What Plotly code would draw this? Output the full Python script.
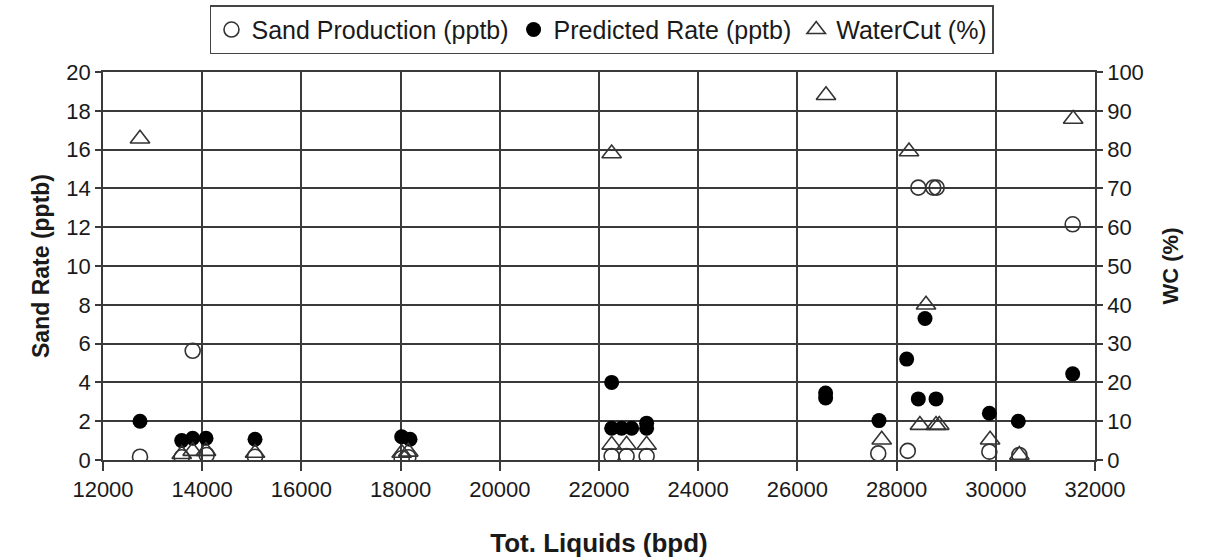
import plotly.graph_objects as go

# Sand Production (pptb) - open circles
sand_x = [12746, 13587, 13808, 14090, 15065, 18022, 18155, 22255, 22556, 22960,
          27630, 28225, 28438, 28740, 28808, 29870, 30475, 31550]
sand_y = [0.17, 0.14, 5.63, 0.26, 0.17, 0.09, 0.14, 0.2, 0.2, 0.2,
          0.34, 0.47, 14.04, 14.04, 14.04, 0.43, 0.26, 12.15]

# Predicted Rate (pptb) - filled circles
pred_x = [12746, 13587, 13808, 14077, 15065, 18022, 18190, 22255, 22255, 22456,
          22658, 22960, 22960, 26569, 26569, 27645, 28203, 28438, 28573, 28795,
          29870, 30454, 31550]
pred_y = [2.0, 1.0, 1.12, 1.12, 1.07, 1.2, 1.07, 4.0, 1.64, 1.64,
          1.64, 1.9, 1.64, 3.2, 3.45, 2.03, 5.2, 3.15, 7.29, 3.15,
          2.41, 2.0, 4.44]

# WaterCut (%) - open triangles (secondary axis)
wc_x = [12746, 13587, 13808, 14077, 15065, 18022, 18155, 22255, 22255, 22556,
        22960, 26577, 27700, 28250, 28470, 28593, 28795, 28860, 29885, 30475, 31560]
wc_y = [82.8, 1.5, 2.3, 2.3, 1.8, 1.8, 2.1, 79.0, 3.9, 3.9,
        3.9, 94.0, 5.2, 79.5, 9.0, 40.0, 9.0, 9.0, 5.2, 1.3, 87.9]

x_ticks = [12000, 14000, 16000, 18000, 20000, 22000, 24000, 26000, 28000, 30000, 32000]

FONT = "Arial, Liberation Sans, sans-serif"
INK = "#1a1a1a"
GRID = "#3a3a3a"
FS = 22

fig = go.Figure()
fig.add_trace(go.Scatter(
    x=sand_x, y=sand_y, mode="markers", name="Sand Production (pptb)",
    marker=dict(symbol="circle-open", size=15, color="#333333", line=dict(width=1.6))))
fig.add_trace(go.Scatter(
    x=pred_x, y=pred_y, mode="markers", name="Predicted Rate (pptb)",
    marker=dict(symbol="circle", size=15, color="#000000")))
fig.add_trace(go.Scatter(
    x=wc_x, y=wc_y, mode="markers", name="WaterCut (%)", yaxis="y2",
    marker=dict(symbol="triangle-up-open", size=17, color="#333333", line=dict(width=1.6))))

fig.update_layout(
    width=1207, height=560,
    margin=dict(l=103, r=112, t=72, b=100, autoexpand=False),
    paper_bgcolor="white", plot_bgcolor="white",
    font=dict(family=FONT, size=FS, color=INK),
    showlegend=True,
    legend=dict(orientation="h", x=0.503, xanchor="center", y=1.172, yanchor="top",
                bordercolor="#444444", borderwidth=1.5, bgcolor="white",
                font=dict(family=FONT, size=25, color=INK),
                itemwidth=30, tracegroupgap=0),
    xaxis=dict(range=[12000, 32000], tickmode="array", tickvals=x_ticks,
               ticktext=[str(v) for v in x_ticks],
               showgrid=True, gridcolor=GRID, gridwidth=1.5,
               showline=True, linecolor=GRID, linewidth=1.5, mirror=True,
               ticks="outside", ticklen=9, tickcolor=GRID, tickwidth=1.5,
               zeroline=False,
               tickfont=dict(family=FONT, size=FS, color=INK),
               title=dict(text="<b>Tot. Liquids (bpd)</b>", standoff=33,
                          font=dict(family=FONT, size=26, color=INK))),
    yaxis=dict(range=[0, 20], dtick=2, tick0=0,
               showgrid=True, gridcolor=GRID, gridwidth=1.5,
               showline=True, linecolor=GRID, linewidth=1.5,
               ticks="outside", ticklen=6, tickcolor=GRID, tickwidth=1.5,
               zeroline=False,
               tickfont=dict(family=FONT, size=FS, color=INK),
               title=dict(text="<b>Sand Rate (pptb)</b>", standoff=10,
                          font=dict(family=FONT, size=23, color=INK))),
    yaxis2=dict(range=[0, 100], dtick=10, tick0=0, overlaying="y", side="right",
                showgrid=False, showline=True, linecolor=GRID, linewidth=1.5,
                ticks="outside", ticklen=6, tickcolor=GRID, tickwidth=1.5,
                zeroline=False,
                tickfont=dict(family=FONT, size=FS, color=INK),
                title=dict(text="<b>WC (%)</b>", standoff=20,
                           font=dict(family=FONT, size=22, color=INK))),
)

fig.write_html("out.html")
